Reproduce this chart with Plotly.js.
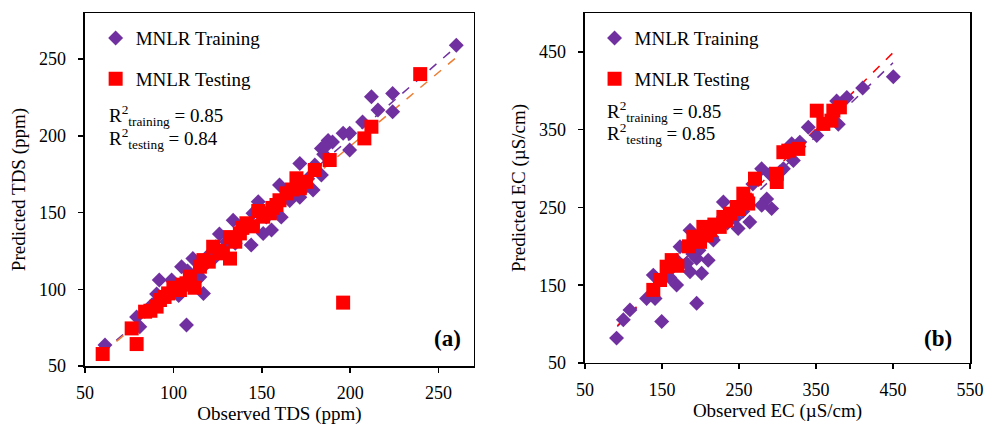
<!DOCTYPE html>
<html>
<head>
<meta charset="utf-8">
<script src="https://cdn.plot.ly/plotly-3.0.1.min.js"></script>
<style>html,body{margin:0;padding:0;background:#fff;}#chart{width:986px;height:425px;}</style>
</head>
<body>
<div id="chart"></div>
<script>
// ---- Panel (a): TDS (ppm) ----
const tdsTrainObs  = [260,212,224,224,215.7,207,196,199.7,199.7,187.5,183.7,190,171.5,180,183.7,179,171.5,160,161,148,150.8,155.5,144,133.8,126,120.6,111,104.6,92,99,117,107.4,79.2,81,61.3,90.5,100,115,124,137.6,145,152.6,165.8,175,186,140,130,108,96,86,118,158,168,176,103,113,122,135,156,163,185,88];
const tdsTrainPred = [259,225.5,227.6,215.7,216.8,209,201.6,201.6,190.7,197,191.8,196,182,181,174.4,164.7,160,168,147,157,136.4,138.6,128.8,145,136,123,120,114.7,106,106,97.3,76.7,82,75.6,63.7,97,99.5,108,127.7,136,149.5,147,157.8,166.8,193,141,131,112,96,87,116,151,165,172,96,106,119,130,153,160,188,90];
const tdsTestObs   = [239.6,212,208,188.4,196,180,169.6,171.5,164,158.3,154.5,150.8,141.3,137.6,132,128,132,122.5,117,115,109.3,107.4,103.7,97,92.4,90.5,84,76.4,79.2,60,145,126,112,100,105,120,135,148,160,175,87,95,139,156,167];
const tdsTestPred  = [240.2,205.9,198.3,184.2,91.3,177.7,172.3,165.8,162.5,154.9,149.5,147.3,143,136.4,134,123.4,120,127.7,119,114.7,108.2,103.9,99.5,97.3,93,88.7,85.4,74.5,64.3,57.8,141,125,101,101,103,118,131,151,158,170,86,95,140,153,165];
const tdsTrendX         = [60, 260];
const tdsTrainTrendY    = [59, 258];
const tdsTestTrendY     = [58.5, 251];
const tdsXTicks = [50,100,150,200,250];
const tdsYTicks = [50,100,150,200,250];

// ---- Panel (b): EC (µS/cm) ----
const ecTrainObs  = [450.4,410.6,390,379,340,351,329,318.4,320.6,307.6,279.4,290,286,279.4,292.4,264,248.9,229.7,242.6,208,186.4,173.4,210,201.5,186.4,182,195,169,138.7,130,141,108.4,99.8,149.6,195,91,216.7,229.7,221,169,303,376.8,255,235,198,160,268,245,190,215];
const ecTrainPred = [418,403.5,391.5,357,353,342.4,334,331.8,310.4,299.7,299.7,293,261,252.8,248.5,231.4,222.9,257,242,216.5,220.8,199.4,182,165.3,167.4,178,184.5,150.3,163,133,133,118.3,105.5,103.4,126.8,82,208,237.8,225,182,295.5,387,245,230,195,160,280,236,190,212];
const ecTestObs   = [351,372.5,381,359.5,370,327,314,307.6,299,299,270.8,255.6,260,247,238.3,229.7,225,212.3,203.7,190.7,199.4,162.6,156,147.4,138.7,250,218,170,185,233,262,208];
const ecTestPred  = [374.4,374.4,378.7,357.4,361.6,325.3,323,321,293.3,282.7,287,267.7,259,250.6,242,237.8,225,220.8,225,212.2,205.8,182.3,173.8,156.7,144,248,228,175,200,233,255,214];
const ecTrendX      = [92, 450];
const ecTestTrendY  = [98, 449];
const ecTrainTrendY = [97, 436];
const ecXTicks = [50,150,250,350,450,550];
const ecYTicks = [50,150,250,350,450];

const purple = '#7030A0', red = '#FF0000', orange = '#ED7D31';
const serif = 'Liberation Serif, Times New Roman, serif';

const traces = [
  {x: tdsTrendX, y: tdsTrainTrendY, mode:'lines', line:{color:purple, width:1.5, dash:'dash'}, showlegend:false, xaxis:'x', yaxis:'y', hoverinfo:'skip'},
  {x: tdsTrendX, y: tdsTestTrendY, mode:'lines', line:{color:orange, width:1.5, dash:'dash'}, showlegend:false, xaxis:'x', yaxis:'y', hoverinfo:'skip'},
  {x: tdsTrainObs, y: tdsTrainPred, mode:'markers', name:'MNLR Training', marker:{symbol:'diamond', size:11.5, color:purple}, xaxis:'x', yaxis:'y', legend:'legend', legendgroup:'a'},
  {x: tdsTestObs, y: tdsTestPred, mode:'markers', name:'MNLR Testing', marker:{symbol:'square', size:14, color:red}, xaxis:'x', yaxis:'y', legend:'legend', legendgroup:'b'},
  {x: ecTrendX, y: ecTrainTrendY, mode:'lines', line:{color:purple, width:1.5, dash:'dash'}, showlegend:false, xaxis:'x2', yaxis:'y2', hoverinfo:'skip'},
  {x: ecTrendX, y: ecTestTrendY, mode:'lines', line:{color:red, width:1.5, dash:'dash'}, showlegend:false, xaxis:'x2', yaxis:'y2', hoverinfo:'skip'},
  {x: ecTrainObs, y: ecTrainPred, mode:'markers', name:'MNLR Training', marker:{symbol:'diamond', size:11.5, color:purple}, xaxis:'x2', yaxis:'y2', legend:'legend2', legendgroup:'c'},
  {x: ecTestObs, y: ecTestPred, mode:'markers', name:'MNLR Testing', marker:{symbol:'square', size:14, color:red}, xaxis:'x2', yaxis:'y2', legend:'legend2', legendgroup:'d'}
];

function axisBase(extra){
  return Object.assign({
    showgrid:false, zeroline:false, showline:true, linecolor:'#000', linewidth:1.5, mirror:true,
    ticks:'outside', ticklen:5, tickwidth:1.5, tickcolor:'#000',
    tickfont:{family:serif, size:18, color:'#000'}
  }, extra);
}

const legendBase = {
  font:{family:serif, size:19, color:'#000'}, bgcolor:'rgba(0,0,0,0)', borderwidth:0,
  tracegroupgap:13, traceorder:'grouped', itemsizing:'trace', xanchor:'left', yanchor:'top'
};

const layout = {
  width:986, height:425, autosize:false,
  margin:{l:0, r:0, t:0, b:0},
  paper_bgcolor:'#fff', plot_bgcolor:'#fff',
  font:{family:serif, color:'#000'},
  xaxis: axisBase({domain:[0.0862,0.4807], range:[50,270], tickvals:tdsXTicks, anchor:'y', ticklabelstandoff:5,
    title:{text:'Observed TDS (ppm)', font:{family:serif, size:19, color:'#000'}, standoff:4}}),
  yaxis: axisBase({domain:[0.1388,0.9694], range:[50,280], tickvals:tdsYTicks, anchor:'x', ticklabelstandoff:9,
    title:{text:'Predicted TDS (ppm)', font:{family:serif, size:19, color:'#000'}, standoff:8}}),
  xaxis2: axisBase({domain:[0.5933,0.9838], range:[50,550], tickvals:ecXTicks, anchor:'y2', ticklabelstandoff:5,
    title:{text:'Observed EC (µS/cm)', font:{family:serif, size:19, color:'#000'}, standoff:4}}),
  yaxis2: axisBase({domain:[0.1459,0.9694], range:[50,500], tickvals:ecYTicks, anchor:'x2', ticklabelstandoff:9,
    title:{text:'Predicted EC (µS/cm)', font:{family:serif, size:19, color:'#000'}, standoff:8}}),
  legend: Object.assign({x:0.097, y:0.955}, legendBase),
  legend2: Object.assign({x:0.603, y:0.955}, legendBase),
  annotations:[
    {xref:'paper', yref:'paper', x:0.109, y:0.692, xanchor:'left', yanchor:'bottom', showarrow:false, align:'left',
     text:'R<sup>2</sup><sub>training</sub> = 0.85', font:{family:serif, size:19, color:'#000'}},
    {xref:'paper', yref:'paper', x:0.109, y:0.638, xanchor:'left', yanchor:'bottom', showarrow:false, align:'left',
     text:'R<sup>2</sup><sub>testing</sub> = 0.84', font:{family:serif, size:19, color:'#000'}},
    {xref:'paper', yref:'paper', x:0.614, y:0.702, xanchor:'left', yanchor:'bottom', showarrow:false, align:'left',
     text:'R<sup>2</sup><sub>training</sub> = 0.85', font:{family:serif, size:19, color:'#000'}},
    {xref:'paper', yref:'paper', x:0.614, y:0.650, xanchor:'left', yanchor:'bottom', showarrow:false, align:'left',
     text:'R<sup>2</sup><sub>testing</sub> = 0.85', font:{family:serif, size:19, color:'#000'}},
    {xref:'paper', yref:'paper', x:0.470, y:0.203, xanchor:'right', yanchor:'middle', showarrow:false,
     text:'<b>(a)</b>', font:{family:serif, size:23, color:'#000'}},
    {xref:'paper', yref:'paper', x:0.968, y:0.203, xanchor:'right', yanchor:'middle', showarrow:false,
     text:'<b>(b)</b>', font:{family:serif, size:23, color:'#000'}}
  ]
};

Plotly.newPlot('chart', traces, layout, {displayModeBar:false, staticPlot:true});
</script>
</body>
</html>
